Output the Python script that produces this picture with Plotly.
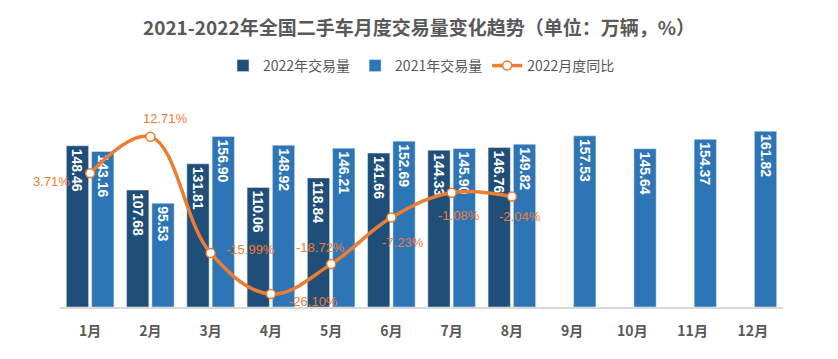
import plotly.graph_objects as go

months = ["1月", "2月", "3月", "4月", "5月", "6月", "7月", "8月", "9月", "10月", "11月", "12月"]
vol_2022 = [148.46, 107.68, 131.81, 110.06, 118.84, 141.66, 144.33, 146.76, None, None, None, None]
vol_2021 = [143.16, 95.53, 156.90, 148.92, 146.21, 152.69, 145.90, 149.82, 157.53, 145.64, 154.37, 161.82]
yoy_2022 = [3.71, 12.71, -15.99, -26.10, -18.72, -7.23, -1.08, -2.04]

# label offsets (styling) for the YoY labels, in pixels
lbl_dx = [-39, 15, 40, 43, -11, 12, 7, 8]
lbl_dy = [-8, 18, 4, -7, 17, -25, -23, -20]

DARK = "#1F4E79"
BLUE = "#2E75B6"
ORANGE = "#ED7D31"
GRAY = "#595959"
CJK = "Noto Sans CJK SC"

bar_font = dict(family="Liberation Sans", size=14, color="white", weight="bold")

fig = go.Figure()
fig.add_trace(go.Bar(
    x=months, y=vol_2022, name="2022年交易量", marker_color=DARK,
    texttemplate="%{y:.2f}", textposition="inside", insidetextanchor="end",
    textangle=90, textfont=bar_font,
))
fig.add_trace(go.Bar(
    x=months, y=vol_2021, name="2021年交易量", marker_color=BLUE,
    texttemplate="%{y:.2f}", textposition="inside", insidetextanchor="end",
    textangle=90, textfont=bar_font,
))
fig.add_trace(go.Scatter(
    x=months[:len(yoy_2022)], y=yoy_2022, name="2022月度同比", yaxis="y2",
    mode="lines+markers", line=dict(color=ORANGE, width=3.5, shape="spline", smoothing=1.1),
    marker=dict(size=9, color="white", line=dict(color=ORANGE, width=1.5)),
))

for m, v, dx, dy in zip(months, yoy_2022, lbl_dx, lbl_dy):
    fig.add_annotation(
        x=m, y=v, yref="y2", text=f"{v:.2f}%", showarrow=False,
        xshift=dx, yshift=dy,
        font=dict(family="Liberation Sans", size=13, color=ORANGE),
    )

fig.update_layout(
    width=822, height=343,
    margin=dict(l=52, r=47, t=104, b=44, autoexpand=False),
    paper_bgcolor="white", plot_bgcolor="white",
    barmode="group", bargap=0.16, bargroupgap=0.12,
    title=dict(
        text="2021-2022年全国二手车月度交易量变化趋势（单位：万辆，%）",
        x=0.5, xanchor="center", y=0.942, yanchor="middle", yref="container",
        font=dict(family=CJK, size=19, color=GRAY, weight="bold"),
    ),
    legend=dict(
        orientation="h", x=0.5, xanchor="center", y=1.236, yanchor="middle",
        font=dict(family=CJK, size=14, color=GRAY), bgcolor="rgba(0,0,0,0)",
        traceorder="normal",
    ),
    xaxis=dict(
        range=[-0.5, len(months) - 0.5], autorange=False,
        showline=True, linecolor="#D9D9D9", linewidth=1.5, showgrid=False,
        ticks="outside", ticklen=10, tickcolor="rgba(0,0,0,0)",
        tickfont=dict(family=CJK, size=14, color=GRAY, weight="bold"),
    ),
    yaxis=dict(range=[0, 179.5], autorange=False, visible=False, showgrid=False, zeroline=False),
    yaxis2=dict(range=[-29.31, 18.84], autorange=False, overlaying="y", visible=False,
                showgrid=False, zeroline=False),
    showlegend=True,
)

fig.write_html("out.html")
